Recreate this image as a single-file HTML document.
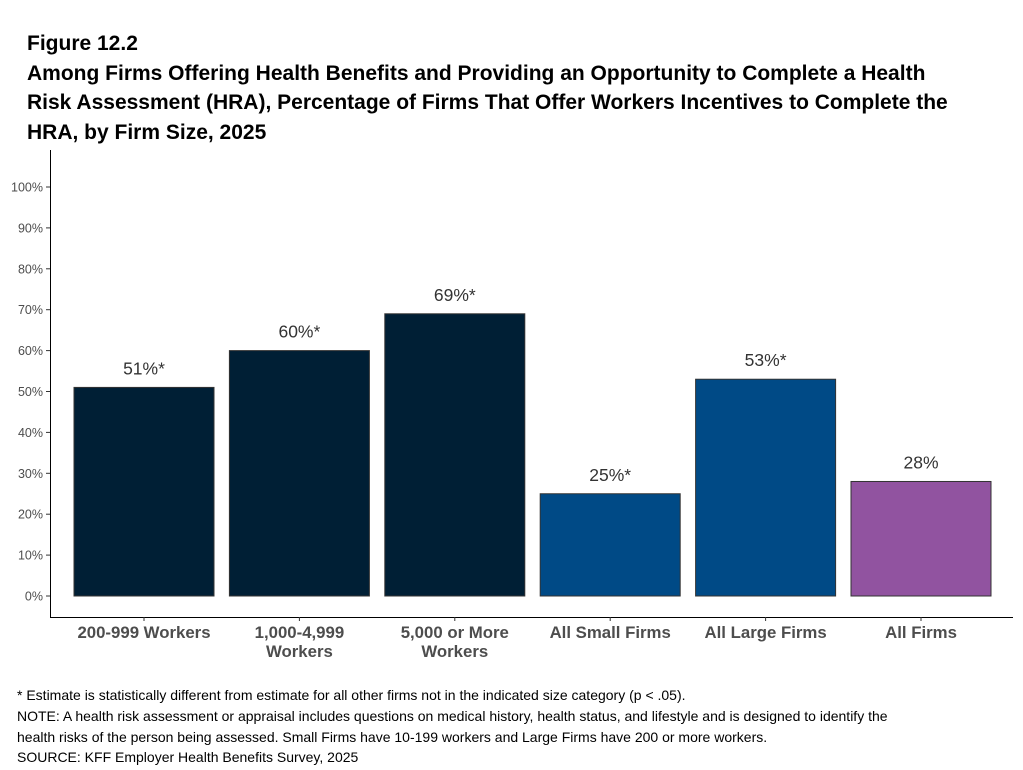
<!DOCTYPE html>
<html><head><meta charset="utf-8"><style>
body{margin:0;background:#fff;font-family:"Liberation Sans",Arial,sans-serif;}
#wrap{position:relative;width:1023px;height:770px;overflow:hidden;}
.t{position:absolute;left:27px;font-weight:bold;font-size:21px;color:#000;white-space:nowrap;}
.n{position:absolute;left:17px;font-size:14px;color:#000;white-space:nowrap;}
</style></head><body>
<div id="wrap">
<div class="t" style="top:32px">Figure 12.2</div>
<div class="t" style="top:62px">Among Firms Offering Health Benefits and Providing an Opportunity to Complete a Health</div>
<div class="t" style="top:91px">Risk Assessment (HRA), Percentage of Firms That Offer Workers Incentives to Complete the</div>
<div class="t" style="top:121px">HRA, by Firm Size, 2025</div>
<svg id="chart" width="1023" height="770" style="position:absolute;left:0;top:0"></svg>
<div class="n" style="top:687px">* Estimate is statistically different from estimate for all other firms not in the indicated size category (p &lt; .05).</div>
<div class="n" style="top:708px">NOTE: A health risk assessment or appraisal includes questions on medical history, health status, and lifestyle and is designed to identify the</div>
<div class="n" style="top:729px">health risks of the person being assessed. Small Firms have 10-199 workers and Large Firms have 200 or more workers.</div>
<div class="n" style="top:749px">SOURCE: KFF Employer Health Benefits Survey, 2025</div>
</div>
<script>
const categories=[["200-999 Workers"],["1,000-4,999","Workers"],["5,000 or More","Workers"],["All Small Firms"],["All Large Firms"],["All Firms"]];
const values=[51,60,69,25,53,28];
const valueLabels=["51%*","60%*","69%*","25%*","53%*","28%"];
const colors=["#001f35","#001f35","#001f35","#004a86","#004a86","#9153a0"];
const ticks=[0,10,20,30,40,50,60,70,80,90,100];
const NS="http://www.w3.org/2000/svg";
const svg=document.getElementById('chart');
const y=v=>596-v*4.09;
const xc=i=>144+i*155.4;
const bw=140;
function mk(t,a,txt){const e=document.createElementNS(NS,t);for(const k in a)e.setAttribute(k,a[k]);if(txt!=null)e.textContent=txt;svg.appendChild(e);return e;}
let ax=mk('line',{x1:50.5,y1:150,x2:50.5,y2:617.5,stroke:'#000','stroke-width':1});


let bx=mk('line',{x1:50,y1:617.5,x2:1013,y2:617.5,stroke:'#000','stroke-width':1});


ticks.forEach(t=>{
 let tk=mk('line',{x1:46,x2:50,y1:y(t),y2:y(t),stroke:'#333'});
 
 
 let l=mk('text',{x:43,y:y(t)+4.5,'text-anchor':'end','font-size':12.5,fill:'#4d4d4d'},t+'%');
 
 
});
values.forEach((v,i)=>{
 let r=mk('rect',{x:xc(i)-bw/2,y:y(v),width:bw,height:y(0)-y(v),fill:colors[i],stroke:'#333','stroke-width':1});
 
 
 let l=mk('text',{x:xc(i),y:y(v)-13,'text-anchor':'middle','font-size':17.5,fill:'#333'},valueLabels[i]);
 
 
 let tk=mk('line',{x1:xc(i),x2:xc(i),y1:617,y2:621,stroke:'#333'});
 
 
 categories[i].forEach((s,j)=>{
  let c=mk('text',{x:xc(i),y:638+j*19,'text-anchor':'middle','font-size':16.8,'font-weight':'bold',fill:'#4d4d4d'},s);
  
  
 });
});
</script>
</body></html>
